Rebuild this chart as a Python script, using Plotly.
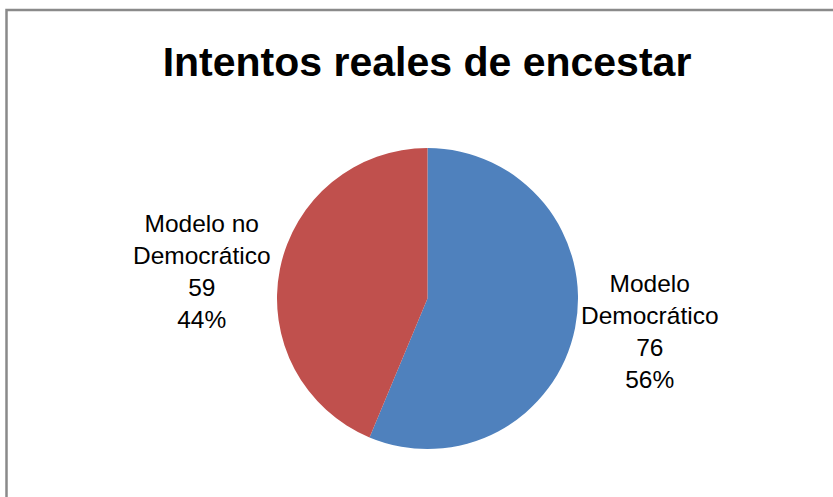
import plotly.graph_objects as go

# Data
categories = ["Modelo Democrático", "Modelo no Democrático"]
label_text = ["Modelo<br>Democrático", "Modelo no<br>Democrático"]
values = [76, 59]
colors = ["#4F81BD", "#C0504D"]
title_text = "Intentos reales de encestar"

W, H = 833, 497
def px(x):
    return x / W
def py(y):
    return 1 - y / H

total = sum(values)
pcts = [round(100 * v / total) for v in values]

fig = go.Figure(go.Pie(
    labels=categories,
    values=values,
    sort=False,
    direction="clockwise",
    rotation=0,
    textinfo="none",
    hoverinfo="label+value+percent",
    marker=dict(colors=colors, line=dict(width=0)),
    domain=dict(x=[px(277), px(578)], y=[py(449), py(148)]),
    showlegend=False,
))

label_pos = [(650, 331), (202, 271)]
annotations = []
for txt, v, p, (ax, ay) in zip(label_text, values, pcts, label_pos):
    annotations.append(dict(
        text=f"{txt}<br>{v}<br>{p}%",
        x=px(ax), y=py(ay), xref="paper", yref="paper",
        xanchor="center", yanchor="middle", showarrow=False,
        align="center",
        font=dict(family="Liberation Sans, Arial, sans-serif", size=24.5, color="#000000"),
    ))

fig.update_layout(
    width=W, height=H,
    margin=dict(l=0, r=0, t=0, b=0),
    paper_bgcolor="white",
    plot_bgcolor="white",
    title=dict(
        text=f"<b>{title_text}</b>",
        x=px(427), y=py(62), xanchor="center", yanchor="middle",
        xref="paper", yref="paper",
        font=dict(family="Liberation Sans, Arial, sans-serif", size=41, color="#000000"),
    ),
    annotations=annotations,
    shapes=[dict(
        type="rect", xref="paper", yref="paper",
        x0=px(6.5), x1=px(W + 10), y0=py(10), y1=py(H + 10),
        line=dict(color="#8A8A8A", width=2.5),
        fillcolor="rgba(0,0,0,0)",
        layer="above",
    )],
)

fig.write_html("out.html")
